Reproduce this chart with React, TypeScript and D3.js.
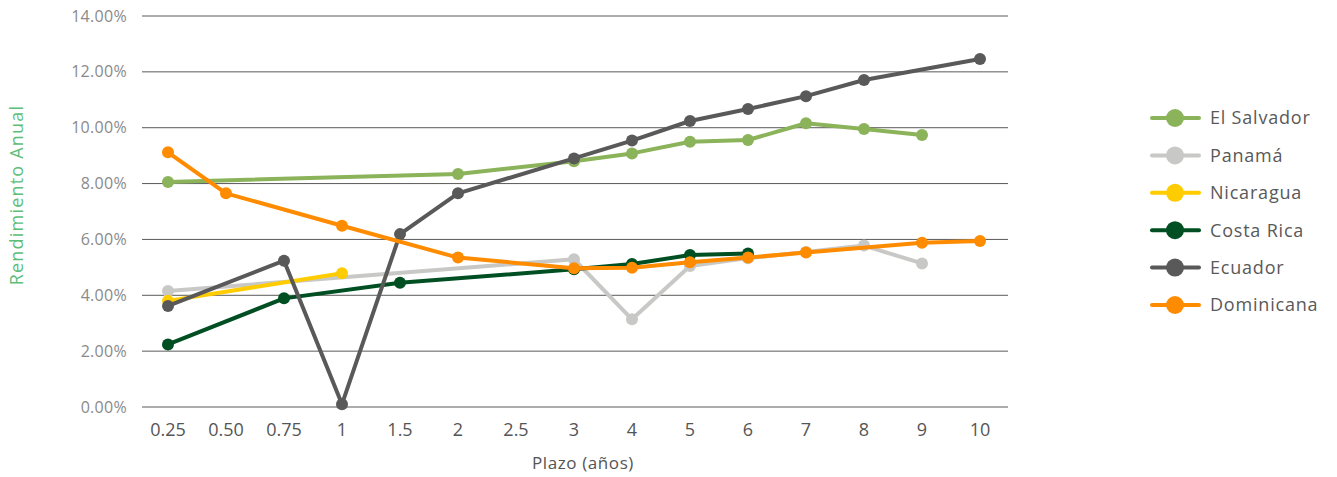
import React from "react";
import * as d3 from "d3";

const categories = ["0.25", "0.50", "0.75", "1", "1.5", "2", "2.5", "3", "4", "5", "6", "7", "8", "9", "10"];
const yTicks = [0, 2, 4, 6, 8, 10, 12, 14];

const elSalvador = [8.06, null, null, null, null, 8.34, null, 8.8, 9.08, 9.5, 9.56, 10.16, 9.95, 9.74, null];
const panama = [4.15, null, null, null, null, null, null, 5.29, 3.14, 5.05, 5.33, 5.55, 5.78, 5.14, null];
const nicaragua = [3.8, null, null, 4.79, null, null, null, null, null, null, null, null, null, null, null];
const costaRica = [2.24, null, 3.89, null, 4.45, null, null, 4.93, 5.12, 5.44, 5.5, null, null, null, null];
const ecuador = [3.62, null, 5.24, 0.1, 6.19, 7.65, null, 8.9, 9.54, 10.24, 10.67, 11.13, 11.71, null, 12.46];
const dominicana = [9.12, 7.65, null, 6.49, null, 5.35, null, 4.97, 4.99, 5.18, 5.35, 5.53, null, 5.88, 5.94];

const seriesNames = ["El Salvador", "Panamá", "Nicaragua", "Costa Rica", "Ecuador", "Dominicana"];
const seriesColors = ["#8BB35A", "#C8C8C6", "#FFCC00", "#004F22", "#595959", "#FF8C00"];
const seriesValues = [elSalvador, panama, nicaragua, costaRica, ecuador, dominicana];

const FONT = "'Open Sans', 'Noto Sans', sans-serif";

export default function App() {
  const x = d3.scaleBand<string>().domain(categories).range([139, 1009]);
  const cx = (c: string) => (x(c) as number) + x.bandwidth() / 2;
  const y = d3.scaleLinear().domain([0, 14]).range([407, 16]);

  const line = d3
    .line<{ c: string; v: number }>()
    .x((d) => cx(d.c))
    .y((d) => y(d.v));

  return (
    <svg width={1337} height={477} style={{ position: "absolute", left: 0, top: 0, background: "#fff" }} fontFamily={FONT}>
      {yTicks.map((t) => (
        <g key={t}>
          <line x1={142} x2={1008} y1={y(t)} y2={y(t)} stroke="#5a5a5a" strokeWidth={1} />
          <text x={127} y={y(t)} dy="0.35em" textAnchor="end" fontSize={16} letterSpacing={0.3} fill="#8a8a8a">
            {t.toFixed(2) + "%"}
          </text>
        </g>
      ))}
      {categories.map((c) => (
        <text key={c} x={cx(c)} y={436} textAnchor="middle" fontSize={18} fill="#555">
          {c}
        </text>
      ))}
      <text x={583} y={469} textAnchor="middle" fontSize={17} letterSpacing={0.6} fill="#555">
        Plazo (años)
      </text>
      <text transform="translate(23,195) rotate(-90)" textAnchor="middle" fontSize={18} letterSpacing={1.2} fill="#5DBE7A">
        Rendimiento Anual
      </text>
      {seriesValues.map((vals, i) => {
        const pts = categories
          .map((c, j) => ({ c, v: vals[j] as number | null }))
          .filter((d) => d.v !== null) as { c: string; v: number }[];
        return (
          <g key={seriesNames[i]}>
            <path d={line(pts) || ""} fill="none" stroke={seriesColors[i]} strokeWidth={4} strokeLinejoin="round" />
            {pts.map((p) => (
              <circle key={p.c} cx={cx(p.c)} cy={y(p.v)} r={6} fill={seriesColors[i]} />
            ))}
          </g>
        );
      })}
      {seriesNames.map((n, i) => {
        const ly = 118 + i * 37.4;
        return (
          <g key={n}>
            <line x1={1152} x2={1199} y1={ly} y2={ly} stroke={seriesColors[i]} strokeWidth={4} strokeLinecap="round" />
            <circle cx={1175} cy={ly} r={9} fill={seriesColors[i]} />
            <text x={1210} y={ly} dy="0.35em" fontSize={18} letterSpacing={0.8} fill="#595959">
              {n}
            </text>
          </g>
        );
      })}
    </svg>
  );
}
